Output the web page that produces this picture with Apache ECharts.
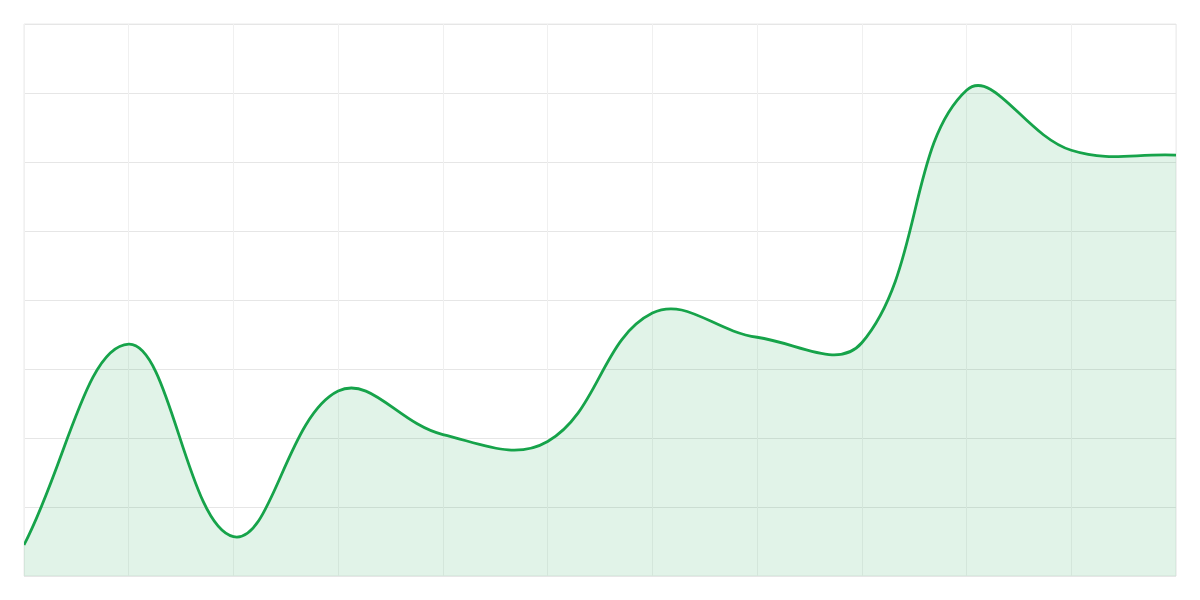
<!DOCTYPE html>
<html>
<head>
<meta charset="utf-8">
<script src="https://cdn.jsdelivr.net/npm/echarts@6/dist/echarts.min.js"></script>
<style>
  html, body { margin: 0; padding: 0; background: #fff; }
  #chart { width: 1200px; height: 600px; }
</style>
</head>
<body>
<div id="chart"></div>
<script>
const categories = ['1', '2', '3', '4', '5', '6', '7', '8', '9', '10', '11', '12'];
const values = [4.5, 33.6, 5.7, 26.8, 20.5, 19.5, 38.1, 34.6, 33.8, 70.4, 61.7, 61.0];

const TENSION = 0.4;

// cardinal spline through every data point, control points capped to the grid
function renderCurve(params, api) {
    if (params.dataIndex !== 0) return null;
    const cs = params.coordSys;
    const pts = values.map((v, i) => api.coord([i, v]));
    const clampX = x => Math.max(cs.x, Math.min(cs.x + cs.width, x));
    const clampY = y => Math.max(cs.y, Math.min(cs.y + cs.height, y));
    const cpIn = [], cpOut = [];
    pts.forEach((cur, i) => {
        const prev = pts[i - 1] || cur;
        const next = pts[i + 1] || cur;
        const d01 = Math.hypot(cur[0] - prev[0], cur[1] - prev[1]);
        const d12 = Math.hypot(next[0] - cur[0], next[1] - cur[1]);
        let s01 = d01 / (d01 + d12);
        let s12 = d12 / (d01 + d12);
        if (isNaN(s01)) s01 = 0;
        if (isNaN(s12)) s12 = 0;
        const fa = TENSION * s01, fb = TENSION * s12;
        const dx = next[0] - prev[0], dy = next[1] - prev[1];
        cpIn.push([clampX(cur[0] - fa * dx), clampY(cur[1] - fa * dy)]);
        cpOut.push([clampX(cur[0] + fb * dx), clampY(cur[1] + fb * dy)]);
    });
    let d = 'M' + pts[0][0] + ' ' + pts[0][1];
    for (let i = 1; i < pts.length; i++) {
        d += ' C' + cpOut[i - 1].join(' ') + ' ' + cpIn[i].join(' ') + ' ' + pts[i].join(' ');
    }
    const base = cs.y + cs.height;
    const last = pts[pts.length - 1];
    const area = d + ' L' + last[0] + ' ' + base + ' L' + pts[0][0] + ' ' + base + ' Z';
    return {
        type: 'group',
        children: [
            { type: 'path', shape: { pathData: area }, style: { fill: 'rgba(22,163,74,0.13)', stroke: null } },
            { type: 'path', shape: { pathData: d }, style: { fill: null, stroke: '#16a34a', lineWidth: 2.8, lineJoin: 'round' } }
        ]
    };
}

const chart = echarts.init(document.getElementById('chart'));
chart.setOption({
    animation: false,
    grid: { left: 24, right: 24, top: 24, bottom: 24, show: true, borderColor: '#ebebeb', borderWidth: 1 },
    xAxis: {
        type: 'category',
        data: categories,
        boundaryGap: false,
        axisLine: { show: false },
        axisTick: { show: false },
        axisLabel: { show: false },
        splitLine: { show: true, lineStyle: { color: '#f0f0f0', width: 1 } }
    },
    yAxis: {
        type: 'value',
        min: 0,
        max: 80,
        interval: 10,
        axisLine: { show: false },
        axisTick: { show: false },
        axisLabel: { show: false },
        splitLine: { lineStyle: { color: '#e6e6e6', width: 1 } }
    },
    series: [{
        type: 'custom',
        data: values.map((v, i) => [i, v]),
        encode: { x: 0, y: 1 },
        clip: true,
        renderItem: renderCurve
    }]
});
</script>
</body>
</html>
